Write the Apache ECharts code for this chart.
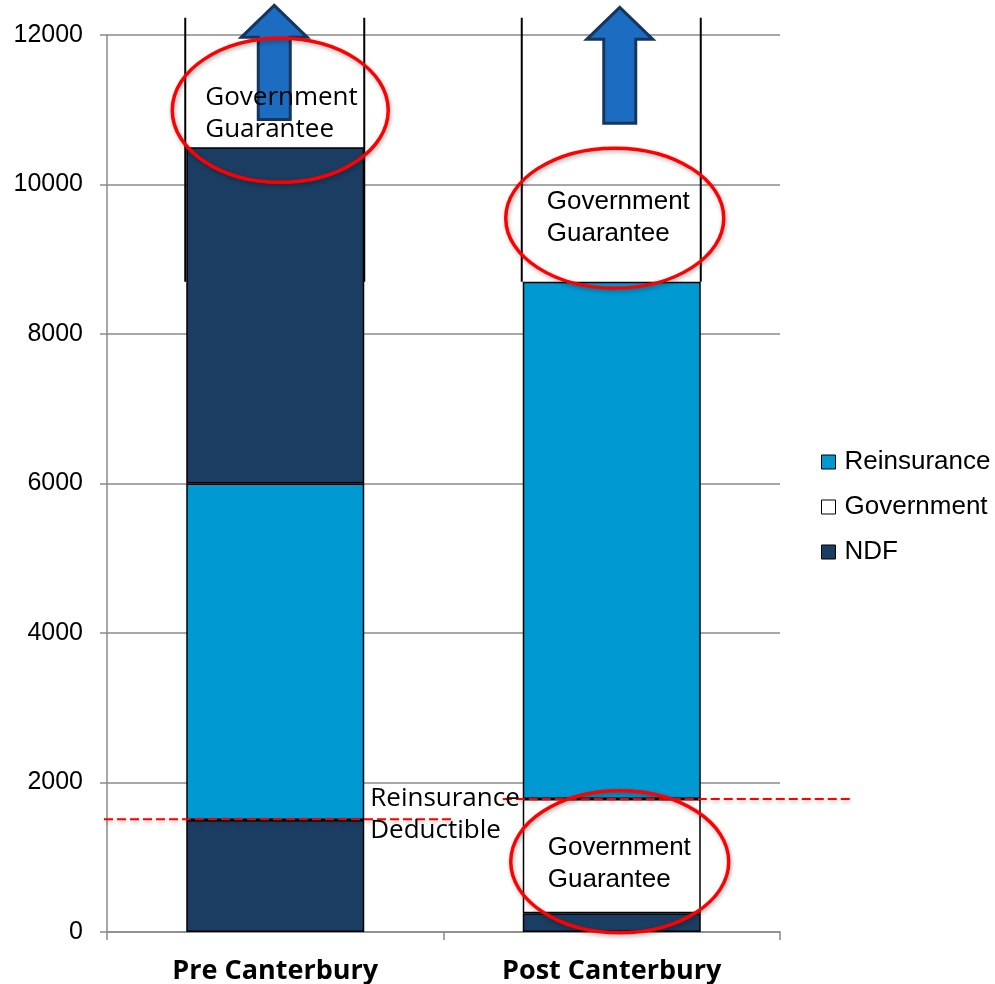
<!DOCTYPE html>
<html><head><meta charset="utf-8">
<script src="https://cdn.jsdelivr.net/npm/echarts@6/dist/echarts.min.js"></script>
<style>html,body{margin:0;padding:0;background:#fff}#c{width:995px;height:984px}</style>
</head><body><div id="c"></div>
<script>
// ---- data ----
const categories = ['Pre Canterbury', 'Post Canterbury'];
const ndfBase = [1500, 250];
const governmentLayer = [null, 1530];
const reinsurance = [4500, 6920];
const ndfUpper = [4500, null];
const guaranteeBandBottom = [8700, 8700];
const guaranteeBandTop = [12230, 12230];
const deductibleLevel = [1510, 1780];
const yMin = 0, yMax = 12000, yInterval = 2000;
const legendNames = ['Reinsurance', 'Government', 'NDF'];

const C_REIN = '#0099D2', C_NDF = '#1B3D61', C_GOV = '#FFFFFF';

const chart = echarts.init(document.getElementById('c'));
const barBase = { type: 'bar', stack: 'total', barWidth: 178 };
const border = { borderColor: '#000', borderWidth: 1.5 };
chart.setOption({
  animation: false,
  backgroundColor: '#fff',
  grid: { left: 107, right: 215, top: 35, bottom: 52, outerBoundsMode: 'none', containLabel: false },
  legend: {
    data: legendNames, orient: 'vertical', left: 821, top: 449, itemGap: 19, padding: 0,
    itemWidth: 14, itemHeight: 14, icon: 'rect',
    itemStyle: { borderColor: '#000', borderWidth: 1 },
    textStyle: { fontFamily: 'Liberation Sans', fontSize: 26, color: '#000', padding: [0, 0, 0, 4] }
  },
  xAxis: {
    type: 'category', data: categories,
    axisLine: { lineStyle: { color: '#8a8a8a', width: 1.5 } },
    axisTick: { show: true, length: 8, lineStyle: { color: '#8a8a8a', width: 1.5 } },
    axisLabel: { fontFamily: 'Open Sans', fontWeight: 'bold', fontSize: 27, color: '#000', margin: 26 }
  },
  yAxis: {
    type: 'value', min: yMin, max: yMax, interval: yInterval,
    axisLine: { show: true, lineStyle: { color: '#8a8a8a', width: 1.5 } },
    axisTick: { show: true, length: 7, lineStyle: { color: '#8a8a8a', width: 1.5 } },
    splitLine: { lineStyle: { color: '#8a8a8a', width: 1.5 } },
    axisLabel: { fontFamily: 'Liberation Sans', fontSize: 25, color: '#000', margin: 24,
      formatter: v => String(v) }
  },
  series: [
    Object.assign({}, barBase, { name: 'NDF', data: ndfBase, itemStyle: Object.assign({ color: C_NDF }, border) }),
    Object.assign({}, barBase, { name: 'Government', data: governmentLayer, itemStyle: Object.assign({ color: C_GOV }, border) }),
    Object.assign({}, barBase, { name: 'Reinsurance', data: reinsurance, itemStyle: Object.assign({ color: C_REIN }, border) }),
    Object.assign({}, barBase, { name: 'NDF', data: ndfUpper, itemStyle: Object.assign({ color: C_NDF }, border) })
  ]
});

// ---- annotations anchored to data coordinates ----
const px = (cat, v) => chart.convertToPixel({ gridIndex: 0 }, [cat, v]);
const catWidth = px(1, 0)[0] - px(0, 0)[0];
const halfBar = 89;
const g = [];
const shadow = { shadowBlur: 4, shadowColor: 'rgba(0,0,0,0.3)', shadowOffsetX: 1, shadowOffsetY: 2 };

// open guarantee band side lines
categories.forEach((c, i) => {
  const top = px(i, guaranteeBandTop[i]), bot = px(i, guaranteeBandBottom[i]);
  [-halfBar - 1, halfBar].forEach(dx => {
    g.push({ type: 'line', z: 50, shape: { x1: top[0] + dx, y1: top[1], x2: bot[0] + dx, y2: bot[1] },
      style: { stroke: '#000', lineWidth: 2 } });
  });
});

// arrows
const arrows = [
  { cat: 0, dx: -1, tip: 12397, base: 10868 },
  { cat: 1, dx: 8, tip: 12370, base: 10820 }
];
arrows.forEach(a => {
  const t = px(a.cat, a.tip), b = px(a.cat, a.base);
  const x = t[0] + a.dx, hh = 32, hw = 33, sw = 16;
  g.push({ type: 'polygon', z: 60, shape: { points: [
      [x, t[1]], [x + hw, t[1] + hh], [x + sw, t[1] + hh], [x + sw, b[1]],
      [x - sw, b[1]], [x - sw, t[1] + hh], [x - hw, t[1] + hh]] },
    style: { fill: '#1C6DC2', stroke: '#17365D', lineWidth: 3, lineJoin: 'miter' } });
});

// dashed deductible lines
{
  const p0 = px(0, deductibleLevel[0]);
  g.push({ type: 'line', z: 70, shape: { x1: p0[0] - catWidth / 2 - 3, y1: p0[1], x2: p0[0] + 178, y2: p0[1] },
    style: Object.assign({ stroke: '#FF0000', lineWidth: 2, lineDash: [9, 4] }, shadow) });
  const p1 = px(1, deductibleLevel[1]);
  g.push({ type: 'line', z: 70, shape: { x1: p1[0] - 109, y1: p1[1], x2: p1[0] + 240, y2: p1[1] },
    style: Object.assign({ stroke: '#FF0000', lineWidth: 2, lineDash: [9, 4] }, shadow) });
}

// texts
const notes = [
  { cat: 0, value: 10950, dx: -70, text: 'Government\nGuarantee', font: 'Open Sans', size: 26 },
  { cat: 1, value: 9560, dx: -65, text: 'Government\nGuarantee', font: 'Liberation Sans', size: 26 },
  { cat: 1, value: 915, dx: -64, text: 'Government\nGuarantee', font: 'Liberation Sans', size: 26 },
  { cat: 0, value: 1570, dx: 95, text: 'Reinsurance\nDeductible', font: 'Open Sans', size: 26 }
];
notes.forEach(n => {
  const p = px(n.cat, n.value);
  g.push({ type: 'text', z: 80, x: p[0] + n.dx, y: p[1],
    style: { text: n.text, fontFamily: n.font, fontSize: n.size, lineHeight: 32, fill: '#000',
      align: 'left', verticalAlign: 'middle' } });
});

// ellipses
const ellipses = [
  { cat: 0, value: 10993, dx: 5, rx: 108, ry: 72 },
  { cat: 1, value: 9550, dx: 3, rx: 109, ry: 70 },
  { cat: 1, value: 940, dx: 8, rx: 109, ry: 71 }
];
ellipses.forEach(e => {
  const p = px(e.cat, e.value);
  g.push({ type: 'ellipse', z: 90, shape: { cx: p[0] + e.dx, cy: p[1], rx: e.rx, ry: e.ry },
    style: Object.assign({ fill: null, stroke: '#FF0000', lineWidth: 3.5 }, shadow) });
});

chart.setOption({ graphic: { elements: g } });
</script>
</body></html>
